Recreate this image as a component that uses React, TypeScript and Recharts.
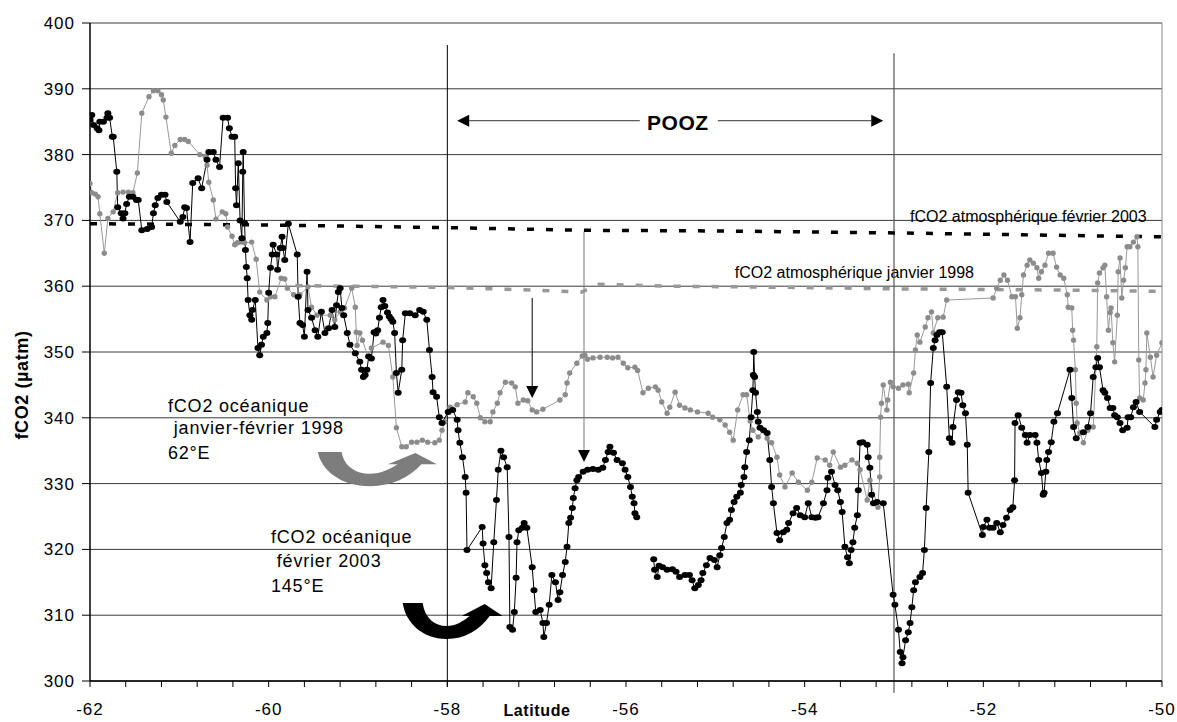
import React from 'react';
import {
  LineChart,
  Line,
  XAxis,
  YAxis,
  CartesianGrid,
  ReferenceLine,
  Customized,
} from 'recharts';

// axes
const xTicks = [
  -62, -61.6, -61.2, -60.8, -60.4, -60, -59.6, -59.2, -58.8, -58.4, -58, -57.6, -57.2, -56.8, -56.4,
  -56, -55.6, -55.2, -54.8, -54.4, -54, -53.6, -53.2, -52.8, -52.4, -52, -51.6, -51.2, -50.8, -50.4, -50,
];
const xLabelled = [-62, -60, -58, -56, -54, -52, -50];
const yTicks = [300, 310, 320, 330, 340, 350, 360, 370, 380, 390, 400];

// fCO2 océanique janvier-février 1998 (62°E)
const ocean1998 = [
  [-62.0, 375.6], [-61.98, 374.2], [-61.94, 374.0], [-61.91, 373.6], [-61.89, 371.0], [-61.84, 365.0],
  [-61.8, 370.3], [-61.74, 371.3], [-61.69, 374.2], [-61.63, 374.3], [-61.57, 374.3], [-61.52, 374.2],
  [-61.47, 377.2], [-61.42, 386.3], [-61.34, 388.8], [-61.29, 389.7], [-61.24, 389.7], [-61.2, 389.1],
  [-61.18, 388.3], [-61.15, 385.7], [-61.09, 380.2], [-61.05, 381.4], [-60.99, 382.3], [-60.94, 382.3],
  [-60.9, 382.0], [-60.77, 380.0], [-60.71, 379.7], [-60.69, 378.4], [-60.67, 375.8], [-60.62, 373.1],
  [-60.59, 370.2], [-60.52, 371.3], [-60.48, 371.0], [-60.46, 369.0], [-60.41, 367.6], [-60.38, 366.3],
  [-60.35, 366.6], [-60.31, 366.7], [-60.27, 366.6], [-60.19, 366.7], [-60.14, 364.1], [-60.1, 359.1],
  [-60.02, 357.9], [-59.98, 358.4], [-59.93, 358.4], [-59.86, 361.2], [-59.82, 361.1], [-59.79, 359.7],
  [-59.72, 358.7], [-59.65, 358.7], [-59.56, 359.9], [-59.52, 356.8], [-59.46, 355.6], [-59.31, 355.6],
  [-59.26, 354.9], [-59.2, 356.1], [-59.15, 356.7], [-59.07, 359.7], [-59.03, 356.8], [-59.02, 353.0],
  [-59.01, 351.0], [-58.98, 352.9], [-58.95, 351.8], [-58.89, 349.3], [-58.85, 350.6], [-58.72, 351.5],
  [-58.66, 351.0], [-58.61, 346.2], [-58.57, 338.5], [-58.51, 335.6], [-58.46, 335.6], [-58.4, 336.3],
  [-58.34, 336.3], [-58.28, 336.6], [-58.22, 336.3], [-58.14, 336.2], [-58.09, 336.6], [-58.06, 338.1],
  [-58.03, 339.4], [-57.97, 341.6], [-57.89, 342.0], [-57.8, 342.4], [-57.77, 343.8], [-57.71, 343.2],
  [-57.67, 342.2], [-57.63, 340.0], [-57.58, 339.4], [-57.52, 339.4], [-57.49, 340.9], [-57.44, 342.2],
  [-57.41, 343.8], [-57.35, 345.4], [-57.28, 345.3], [-57.24, 344.7], [-57.21, 342.2], [-57.15, 342.7],
  [-57.1, 342.6], [-57.05, 341.2], [-57.0, 340.9], [-56.93, 341.3], [-56.74, 342.7], [-56.68, 343.5],
  [-56.66, 345.3], [-56.63, 346.8], [-56.55, 348.3], [-56.49, 349.4], [-56.46, 349.5], [-56.43, 348.9],
  [-56.37, 349.1], [-56.29, 349.2], [-56.21, 349.2], [-56.15, 349.1], [-56.09, 349.2], [-56.03, 348.3],
  [-55.98, 347.6], [-55.9, 347.7], [-55.87, 347.2], [-55.81, 343.8], [-55.75, 344.5], [-55.67, 344.7],
  [-55.64, 344.2], [-55.6, 342.4], [-55.54, 340.7], [-55.51, 341.6], [-55.45, 343.9], [-55.4, 341.9],
  [-55.34, 341.5], [-55.28, 341.2], [-55.2, 340.9], [-55.08, 340.7], [-55.03, 340.1], [-54.95, 339.7],
  [-54.89, 338.9], [-54.84, 337.8], [-54.8, 336.6], [-54.75, 341.2], [-54.69, 343.5], [-54.65, 343.5],
  [-54.61, 339.5], [-54.58, 338.1], [-54.52, 337.1], [-54.46, 338.1], [-54.42, 336.9], [-54.37, 336.2],
  [-54.31, 334.0], [-54.28, 331.3], [-54.22, 329.5], [-54.14, 331.6], [-54.07, 330.2], [-53.97, 329.0],
  [-53.92, 330.2], [-53.86, 333.9], [-53.77, 333.6], [-53.72, 332.8], [-53.68, 334.8], [-53.6, 332.5],
  [-53.55, 332.8], [-53.47, 333.6], [-53.41, 333.1], [-53.38, 332.1], [-53.3, 327.5], [-53.27, 330.5],
  [-53.18, 326.4], [-53.16, 331.0], [-53.16, 334.0], [-53.15, 340.1], [-53.14, 342.2], [-53.12, 345.0],
  [-53.08, 341.2], [-53.07, 342.7], [-53.04, 345.4], [-53.01, 344.7], [-52.95, 344.5], [-52.9, 345.0],
  [-52.84, 345.1], [-52.83, 343.8], [-52.78, 346.8], [-52.76, 350.3], [-52.74, 352.6], [-52.71, 351.5],
  [-52.65, 353.8], [-52.62, 355.2], [-52.58, 356.1], [-52.56, 352.9], [-52.51, 355.2], [-52.45, 355.3],
  [-52.41, 357.9], [-51.89, 358.2], [-51.85, 359.7], [-51.81, 360.9], [-51.77, 361.7], [-51.73, 360.9],
  [-51.68, 358.4], [-51.64, 358.4], [-51.62, 353.6], [-51.59, 355.2], [-51.57, 358.7], [-51.55, 361.7],
  [-51.51, 363.2], [-51.48, 364.0], [-51.44, 363.5], [-51.4, 362.8], [-51.38, 361.2], [-51.35, 362.2],
  [-51.31, 363.2], [-51.27, 365.0], [-51.22, 365.0], [-51.18, 362.9], [-51.14, 361.7], [-51.1, 361.2],
  [-51.06, 358.7], [-51.05, 356.8], [-51.01, 356.7], [-51.0, 353.3], [-50.99, 351.8], [-50.97, 347.3],
  [-50.96, 342.2], [-50.95, 339.2], [-50.92, 337.7], [-50.88, 336.2], [-50.83, 338.1], [-50.77, 338.6],
  [-50.73, 350.8], [-50.72, 360.5], [-50.7, 362.0], [-50.66, 362.8], [-50.64, 363.2], [-50.62, 358.4],
  [-50.6, 353.3], [-50.58, 356.0], [-50.57, 356.7], [-50.55, 351.4], [-50.53, 348.5], [-50.5, 355.6],
  [-50.49, 362.2], [-50.47, 364.3], [-50.45, 358.2], [-50.43, 360.9], [-50.41, 362.8], [-50.39, 366.0],
  [-50.36, 366.0], [-50.32, 366.7], [-50.28, 367.5], [-50.27, 366.0], [-50.26, 348.8], [-50.25, 343.0],
  [-50.21, 342.7], [-50.19, 345.3], [-50.18, 347.3], [-50.17, 352.9], [-50.13, 349.2], [-50.1, 346.2],
  [-50.06, 349.5], [-50.0, 351.4],
];

// fCO2 océanique février 2003 (145°E), null = gap in the track
const ocean2003 = [
  [-62.0, 385.3], [-61.98, 386.0], [-61.96, 384.5], [-61.92, 384.0], [-61.9, 383.7], [-61.89, 385.0],
  [-61.85, 385.0], [-61.81, 385.6], [-61.8, 386.3], [-61.78, 385.6], [-61.75, 382.7], [-61.74, 382.7],
  [-61.7, 377.4], [-61.69, 372.0], [-61.65, 371.1], [-61.63, 370.3], [-61.61, 371.1], [-61.59, 372.5],
  [-61.56, 373.6], [-61.52, 373.6], [-61.48, 373.1], [-61.46, 373.1], [-61.42, 368.5], [-61.36, 368.7],
  [-61.31, 369.0], [-61.29, 371.1], [-61.27, 372.3], [-61.24, 373.4], [-61.2, 373.9], [-61.16, 373.9],
  [-61.14, 372.8], [-60.99, 369.8], [-60.96, 370.5], [-60.94, 372.0], [-60.92, 371.9], [-60.88, 366.7],
  [-60.85, 375.7], [-60.79, 376.4], [-60.75, 374.9], [-60.69, 379.2], [-60.67, 380.4], [-60.62, 380.4],
  [-60.59, 379.2], [-60.55, 378.1], [-60.51, 385.6], [-60.46, 385.6], [-60.44, 384.0], [-60.41, 382.7],
  [-60.38, 382.7], [-60.37, 374.9], [-60.36, 372.3], [-60.34, 378.7], [-60.32, 370.0], [-60.3, 367.3],
  [-60.29, 377.4], [-60.285, 380.4], [-60.27, 369.6], [-60.26, 365.5], [-60.25, 362.9], [-60.24, 361.2],
  [-60.23, 357.9], [-60.21, 355.6], [-60.19, 354.9], [-60.18, 356.4], [-60.15, 357.9], [-60.12, 350.6],
  [-60.1, 349.5], [-60.08, 351.1], [-60.06, 352.3], [-60.02, 352.9], [-60.01, 354.4], [-60.0, 359.0],
  [-59.98, 362.8], [-59.96, 364.8], [-59.95, 366.3], [-59.91, 364.8], [-59.9, 362.5], [-59.87, 365.8],
  [-59.85, 367.5], [-59.84, 365.8], [-59.82, 364.0], [-59.78, 369.5], [-59.68, 364.8], [-59.67, 358.4],
  [-59.65, 354.4], [-59.62, 354.1], [-59.6, 352.3], [-59.57, 362.2], [-59.56, 356.4], [-59.52, 355.2],
  [-59.48, 353.3], [-59.45, 352.3], [-59.41, 356.1], [-59.37, 352.9], [-59.33, 353.6], [-59.29, 356.4],
  [-59.26, 353.8], [-59.24, 357.1], [-59.22, 359.1], [-59.2, 359.7], [-59.18, 356.7], [-59.16, 355.6],
  [-59.12, 352.9], [-59.09, 351.1], [-59.03, 349.8], [-58.98, 348.5], [-58.96, 347.3], [-58.94, 346.2],
  [-58.92, 346.5], [-58.9, 347.3], [-58.88, 349.3], [-58.85, 349.0], [-58.82, 353.0], [-58.8, 352.8],
  [-58.78, 353.3], [-58.76, 355.2], [-58.74, 356.8], [-58.72, 357.9], [-58.7, 357.0], [-58.67, 356.0],
  [-58.65, 355.4], [-58.63, 355.0], [-58.61, 354.6], [-58.59, 352.9], [-58.57, 346.8], [-58.55, 343.8],
  [-58.51, 347.3], [-58.5, 351.8], [-58.47, 355.9], [-58.42, 355.9], [-58.36, 355.6], [-58.31, 356.4],
  [-58.27, 356.1], [-58.23, 354.9], [-58.2, 350.3], [-58.17, 346.2], [-58.16, 343.9], [-58.12, 343.2],
  [-58.09, 340.1], [-58.06, 339.2], [-57.99, 340.9], [-57.94, 341.2], [-57.89, 339.7], [-57.88, 338.1],
  [-57.86, 336.2], [-57.83, 334.0], [-57.8, 331.0], [-57.79, 328.6], [-57.78, 319.9], [-57.61, 323.4],
  [-57.6, 320.9], [-57.58, 317.6], [-57.56, 316.4], [-57.54, 315.0], [-57.51, 314.1], [-57.48, 321.1],
  [-57.45, 327.5], [-57.43, 332.1], [-57.4, 335.0], [-57.37, 334.0], [-57.33, 332.5], [-57.31, 321.9],
  [-57.3, 308.2], [-57.27, 307.8], [-57.25, 310.5], [-57.23, 315.7], [-57.22, 321.1], [-57.2, 322.9],
  [-57.16, 323.3], [-57.14, 324.0], [-57.11, 323.3], [-57.05, 317.3], [-57.03, 313.8], [-57.01, 310.5],
  [-56.96, 310.8], [-56.93, 308.8], [-56.92, 306.7], [-56.89, 308.8], [-56.86, 311.6], [-56.83, 316.1],
  [-56.79, 315.0], [-56.76, 312.3], [-56.74, 313.5], [-56.71, 316.1], [-56.68, 318.1], [-56.66, 320.4],
  [-56.64, 324.0], [-56.62, 324.8], [-56.6, 326.3], [-56.59, 327.8], [-56.57, 329.3], [-56.55, 330.5],
  [-56.53, 331.0], [-56.48, 331.8], [-56.43, 332.1], [-56.37, 332.2], [-56.31, 332.1], [-56.26, 332.4],
  [-56.23, 333.6], [-56.2, 334.8], [-56.18, 335.6], [-56.14, 334.7], [-56.1, 333.6], [-56.04, 333.1],
  [-56.01, 332.1], [-55.98, 331.0], [-55.95, 329.5], [-55.93, 328.0], [-55.91, 327.0], [-55.9, 325.5],
  [-55.88, 324.9], [-55.8, null],
  [-55.69, 318.5], [-55.68, 316.9], [-55.65, 315.8], [-55.63, 317.5], [-55.59, 317.3], [-55.54, 316.9],
  [-55.48, 317.0], [-55.44, 316.6], [-55.4, 315.8], [-55.34, 316.1], [-55.29, 316.1], [-55.26, 315.3],
  [-55.23, 314.1], [-55.19, 314.6], [-55.16, 315.3], [-55.14, 316.4], [-55.1, 317.6], [-55.06, 318.7],
  [-55.01, 318.4], [-54.98, 317.3], [-54.95, 319.1], [-54.93, 320.2], [-54.9, 321.9], [-54.87, 324.0],
  [-54.84, 324.5], [-54.82, 326.0], [-54.79, 327.2], [-54.76, 328.0], [-54.72, 328.6], [-54.71, 329.8],
  [-54.68, 331.0], [-54.67, 332.5], [-54.65, 334.8], [-54.62, 336.6], [-54.6, 340.1], [-54.58, 344.2],
  [-54.575, 346.5], [-54.57, 350.0], [-54.56, 346.2], [-54.55, 343.8], [-54.53, 340.9], [-54.52, 339.4],
  [-54.5, 338.5], [-54.46, 338.1], [-54.42, 337.7], [-54.39, 333.6], [-54.37, 329.5], [-54.35, 327.0],
  [-54.31, 322.5], [-54.28, 321.4], [-54.24, 322.6], [-54.2, 323.0], [-54.18, 324.0], [-54.13, 325.5],
  [-54.09, 326.3], [-54.05, 325.2], [-54.0, 324.9], [-53.96, 327.0], [-53.92, 324.9], [-53.88, 324.8],
  [-53.85, 324.9], [-53.79, 327.0], [-53.75, 329.0], [-53.74, 330.9], [-53.7, 331.8], [-53.66, 329.8],
  [-53.63, 329.0], [-53.6, 327.2], [-53.58, 325.7], [-53.55, 320.4], [-53.52, 318.8], [-53.5, 317.9],
  [-53.48, 319.9], [-53.46, 321.1], [-53.44, 323.3], [-53.41, 325.2], [-53.4, 329.0], [-53.38, 336.2],
  [-53.35, 336.3], [-53.3, 335.9], [-53.29, 334.0], [-53.27, 332.4], [-53.25, 328.3], [-53.23, 327.0],
  [-53.19, 327.2], [-53.12, 327.0], [-53.01, 313.1], [-52.99, 311.6], [-52.95, 307.8], [-52.93, 304.4],
  [-52.91, 302.7], [-52.9, 303.6], [-52.87, 306.2], [-52.84, 307.4], [-52.82, 308.8], [-52.8, 311.2],
  [-52.78, 313.8], [-52.76, 315.0], [-52.71, 315.8], [-52.68, 316.4], [-52.66, 319.9], [-52.64, 326.3],
  [-52.61, 334.8], [-52.59, 345.3], [-52.56, 350.6], [-52.54, 351.8], [-52.52, 352.6], [-52.49, 353.0],
  [-52.46, 353.0], [-52.41, 344.7], [-52.38, 336.9], [-52.35, 336.2], [-52.34, 338.6], [-52.3, 342.7],
  [-52.28, 343.9], [-52.25, 343.8], [-52.23, 341.9], [-52.2, 340.7], [-52.18, 335.9], [-52.17, 328.6],
  [-52.01, 322.2], [-52.0, 323.4], [-51.96, 324.5], [-51.93, 323.3], [-51.89, 323.3], [-51.85, 324.0],
  [-51.81, 322.6], [-51.78, 323.7], [-51.74, 324.8], [-51.7, 326.0], [-51.67, 326.4], [-51.65, 330.5],
  [-51.645, 339.2], [-51.61, 340.4], [-51.57, 338.5], [-51.53, 337.4], [-51.51, 336.2], [-51.48, 337.4],
  [-51.42, 337.4], [-51.4, 336.2], [-51.38, 333.6], [-51.35, 331.6], [-51.33, 328.3], [-51.32, 328.6],
  [-51.3, 331.8], [-51.29, 333.6], [-51.27, 334.8], [-51.24, 336.3], [-51.21, 339.4], [-51.17, 340.7],
  [-51.03, 347.3], [-51.01, 343.0], [-50.99, 338.6], [-50.96, 336.9], [-50.88, 337.8], [-50.83, 338.6],
  [-50.8, 340.7], [-50.77, 346.2], [-50.74, 347.7], [-50.72, 349.1], [-50.7, 347.7], [-50.66, 344.2],
  [-50.64, 343.8], [-50.61, 343.0], [-50.58, 341.5], [-50.55, 341.5], [-50.53, 340.4], [-50.5, 340.1],
  [-50.47, 339.2], [-50.44, 338.1], [-50.39, 338.5], [-50.38, 340.1], [-50.35, 340.1], [-50.32, 341.6],
  [-50.29, 342.4], [-50.25, 340.9], [-50.08, 338.6], [-50.06, 339.7], [-50.02, 340.9], [-50.0, 341.2],
];

// fCO2 atmosphérique
const atm2003 = [
  [-62, 369.5], [-60, 369.3], [-58, 368.9], [-56.5, 368.5], [-55, 368.4], [-53, 368.1], [-52, 367.9], [-50, 367.5],
];
const atm1998 = [
  [-59.7, 360.1], [-58, 359.8], [-57, 359.4], [-56.5, 359.1], [-56.3, 360.3], [-55.5, 360.0],
  [-54, 359.8], [-53, 359.6], [-52, 359.5], [-51, 359.4], [-50, 359.2],
];

const toPoints = (arr: (number | null)[][]) => arr.map(([x, y]) => ({ x, y }));

const FONT = '"Liberation Sans", Arial, sans-serif';
const W = 1177;
const H = 722;
const X0 = -62, X1 = -50, Y0 = 300, Y1 = 400;
const PL = 90, PR = 1162, PT = 23, PB = 681;
const sx = (x: number) => PL + ((x - X0) / (X1 - X0)) * (PR - PL);
const sy = (y: number) => PB - ((y - Y0) / (Y1 - Y0)) * (PB - PT);

const blackDot = (p: any) =>
  p.cx == null || p.cy == null || p.value == null ? (
    <g key={`b${p.index}`} />
  ) : (
    <ellipse key={`b${p.index}`} cx={p.cx} cy={p.cy} rx={3.5} ry={3} fill="#000" />
  );
const grayDot = (p: any) =>
  p.cx == null || p.cy == null ? (
    <g key={`g${p.index}`} />
  ) : (
    <circle key={`g${p.index}`} cx={p.cx} cy={p.cy} r={2.7} fill="#8c8c8c" />
  );

// U-turn arrow, drawn relative to its top-left corner
const UTURN =
  'M0,0 L20,0 C22,15 32,23 44,23 C53,23 61,18 67,13 L59,13 L82,1 L100,13 L87,13 C77,27 62,36 44,36 C19,36 3,19 0,0 Z';

const Annotations = () => {
  const pozY = sy(385.15);
  const pozL = sx(-57.89);
  const pozR = sx(-53.12);
  const pozC = sx(-55.42);
  const downArrows = [
    { x: -57.05, from: 358.2, to: 343.0, color: '#000' },
    { x: -56.47, from: 368.3, to: 333.3, color: '#777' },
  ];
  return (
    <g fontFamily={FONT}>
      {/* POOZ */}
      <line x1={pozL + 12} y1={pozY} x2={pozC - 38} y2={pozY} stroke="#333" strokeWidth={1} />
      <line x1={pozC + 40} y1={pozY} x2={pozR - 12} y2={pozY} stroke="#333" strokeWidth={1} />
      <path d={`M${pozL},${pozY} L${pozL + 12},${pozY - 6} L${pozL + 12},${pozY + 6} Z`} fill="#000" />
      <path d={`M${pozR},${pozY} L${pozR - 12},${pozY - 6} L${pozR - 12},${pozY + 6} Z`} fill="#000" />
      <text x={pozC} y={pozY + 9} textAnchor="middle" fontSize={21} fontWeight="bold" letterSpacing={0.5}>
        POOZ
      </text>

      {downArrows.map((a) => {
        const x = sx(a.x);
        const y1 = sy(a.from);
        const y2 = sy(a.to);
        return (
          <g key={a.x}>
            <line x1={x} y1={y1} x2={x} y2={y2 - 11} stroke={a.color} strokeWidth={1} />
            <path d={`M${x},${y2} L${x - 6},${y2 - 12} L${x + 6},${y2 - 12} Z`} fill="#000" />
          </g>
        );
      })}

      {/* curved arrows */}
      <path d={UTURN} transform={`translate(${sx(-59.45)},${sy(334.8)}) scale(1.19,0.95)`} fill="#7d7d7d" />
      <path d={UTURN} transform={`translate(${sx(-58.5)},${sy(311.85)})`} fill="#000" />

      {/* labels */}
      <g fontSize={18} letterSpacing={0.8} fill="#000">
        <text x={168} y={412}>fCO2 océanique</text>
        <text x={168} y={434} xmlSpace="preserve"> janvier-février 1998</text>
        <text x={168} y={459}>62°E</text>
        <text x={271} y={543}>fCO2 océanique</text>
        <text x={271} y={567} xmlSpace="preserve"> février 2003</text>
        <text x={271} y={592}>145°E</text>
      </g>
      <g fontSize={16} fill="#000">
        <text x={910} y={222}>fCO2 atmosphérique février 2003</text>
        <text x={974} y={278} textAnchor="end">fCO2 atmosphérique janvier 1998</text>
      </g>

      {/* axis titles */}
      <text
        x={28}
        y={385}
        transform="rotate(-90, 28, 385)"
        textAnchor="middle"
        fontSize={18}
        fontWeight="bold"
        letterSpacing={0.6}
      >
        fCO2 (µatm)
      </text>
      <text x={537} y={716} textAnchor="middle" fontSize={16} fontWeight="bold" letterSpacing={0.6}>
        Latitude
      </text>
    </g>
  );
};

export default function App() {
  return (
    <div style={{ position: 'absolute', left: 0, top: 0, width: W, height: H, background: '#fff' }}>
      <LineChart width={W} height={H} margin={{ top: 23, right: 15, bottom: 0, left: 0 }}>
        <CartesianGrid vertical={false} stroke="#3a3a3a" strokeWidth={1} />
        <XAxis
          type="number"
          dataKey="x"
          domain={[X0, X1]}
          ticks={xTicks}
          interval={0}
          height={41}
          tickSize={6}
          tickMargin={16}
          tickFormatter={(v: number) => (xLabelled.some((t) => Math.abs(t - v) < 1e-6) ? String(Math.round(v)) : '')}
          tick={{ fontSize: 17, fill: '#000', fontFamily: FONT, letterSpacing: 1 }}
          axisLine={{ stroke: '#000', strokeWidth: 1.5 }}
          tickLine={{ stroke: '#000' }}
          allowDataOverflow
        />
        <YAxis
          type="number"
          domain={[Y0, Y1]}
          ticks={yTicks}
          interval={0}
          width={90}
          tickSize={8}
          tickMargin={7}
          tick={{ fontSize: 17, fill: '#000', fontFamily: FONT, letterSpacing: 1 }}
          axisLine={{ stroke: '#000', strokeWidth: 1.5 }}
          tickLine={{ stroke: '#000' }}
          allowDataOverflow
        />
        <ReferenceLine x={X1} stroke="#888" strokeWidth={1} />
        <ReferenceLine
          segment={[{ x: -58, y: 396.65 }, { x: -58, y: 299.1 }]}
          stroke="#000"
          strokeWidth={1}
          ifOverflow="visible"
        />
        <ReferenceLine
          segment={[{ x: -53, y: 395.4 }, { x: -53, y: 298.2 }]}
          stroke="#555"
          strokeWidth={1.2}
          ifOverflow="visible"
        />
        <Line
          data={toPoints(ocean1998)}
          dataKey="y"
          stroke="#999"
          strokeWidth={1}
          dot={grayDot}
          activeDot={false}
          isAnimationActive={false}
        />
        <Line
          data={toPoints(ocean2003)}
          dataKey="y"
          stroke="#000"
          strokeWidth={1}
          dot={blackDot}
          activeDot={false}
          connectNulls={false}
          isAnimationActive={false}
        />
        <Line
          data={toPoints(atm1998)}
          dataKey="y"
          stroke="#999"
          strokeWidth={3.5}
          strokeDasharray="7 12"
          dot={false}
          activeDot={false}
          isAnimationActive={false}
        />
        <Line
          data={toPoints(atm2003)}
          dataKey="y"
          stroke="#000"
          strokeWidth={3.5}
          strokeDasharray="7 12"
          dot={false}
          activeDot={false}
          isAnimationActive={false}
        />
        <Customized component={Annotations} />
      </LineChart>
    </div>
  );
}
